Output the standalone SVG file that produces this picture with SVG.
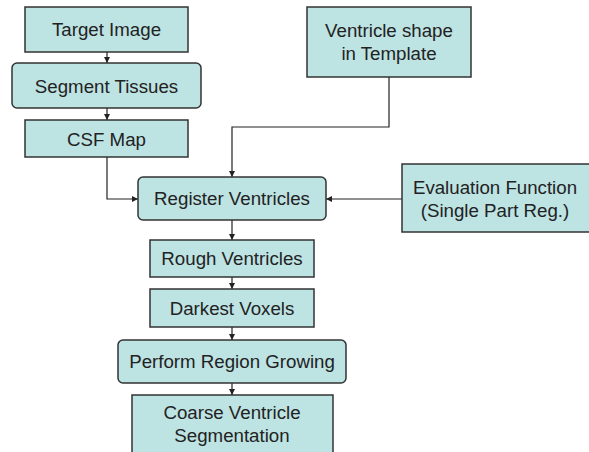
<svg xmlns="http://www.w3.org/2000/svg" width="589" height="452" viewBox="0 0 589 452">
<style>
.b{fill:#bde3e3;stroke:#333;stroke-width:1.5}
.t{font-family:"Liberation Sans",Arial,sans-serif;font-size:18.7px;fill:#222;text-anchor:middle}
.c{fill:none;stroke:#222;stroke-width:1.2}
</style>
<defs>
<marker id="a" viewBox="0 0 10 10" refX="10" refY="5" markerWidth="6" markerHeight="6" orient="auto" markerUnits="userSpaceOnUse">
<path d="M0,0 L10,5 L0,10 z" fill="#222"/>
</marker>
</defs>
<rect width="589" height="452" fill="#fff"/>
<g id="connectors">
<path class="c" d="M107,52 V63" marker-end="url(#a)"/>
<path class="c" d="M107,108 V120" marker-end="url(#a)"/>
<path class="c" d="M107,157 V199 H138" marker-end="url(#a)"/>
<path class="c" d="M389,77 V127 H232 V177" marker-end="url(#a)"/>
<path class="c" d="M402,199 H326" marker-end="url(#a)"/>
<path class="c" d="M232,220 V240" marker-end="url(#a)"/>
<path class="c" d="M232,277 V289" marker-end="url(#a)"/>
<path class="c" d="M232,327 V340" marker-end="url(#a)"/>
<path class="c" d="M232,383 V395" marker-end="url(#a)"/>
</g>
<g id="target"><rect class="b" x="25" y="7" width="163" height="45"/><text class="t" x="106.5" y="36">Target Image</text></g>
<g id="segment"><rect class="b" x="12" y="63" width="189" height="45" rx="5"/><text class="t" x="106.5" y="93">Segment Tissues</text></g>
<g id="csf"><rect class="b" x="25" y="120" width="163" height="37"/><text class="t" x="106.5" y="146">CSF Map</text></g>
<g id="template"><rect class="b" x="307" y="7" width="164" height="70"/><text class="t" x="389" y="37">Ventricle shape</text><text class="t" x="389" y="60">in Template</text></g>
<g id="register"><rect class="b" x="138" y="177" width="188" height="43" rx="5"/><text class="t" x="232" y="205">Register Ventricles</text></g>
<g id="evaluation"><rect class="b" x="402" y="164" width="190" height="68"/><text class="t" x="495" y="194">Evaluation Function</text><text class="t" x="495" y="217">(Single Part Reg.)</text></g>
<g id="rough"><rect class="b" x="150" y="240" width="164" height="37"/><text class="t" x="232" y="265">Rough Ventricles</text></g>
<g id="darkest"><rect class="b" x="150" y="289" width="164" height="38"/><text class="t" x="232" y="315">Darkest Voxels</text></g>
<g id="growing"><rect class="b" x="118" y="340" width="228" height="43" rx="5"/><text class="t" x="232" y="368">Perform Region Growing</text></g>
<g id="coarse"><rect class="b" x="132" y="395" width="201" height="62"/><text class="t" x="232" y="419">Coarse Ventricle</text><text class="t" x="232" y="442">Segmentation</text></g>
</svg>
